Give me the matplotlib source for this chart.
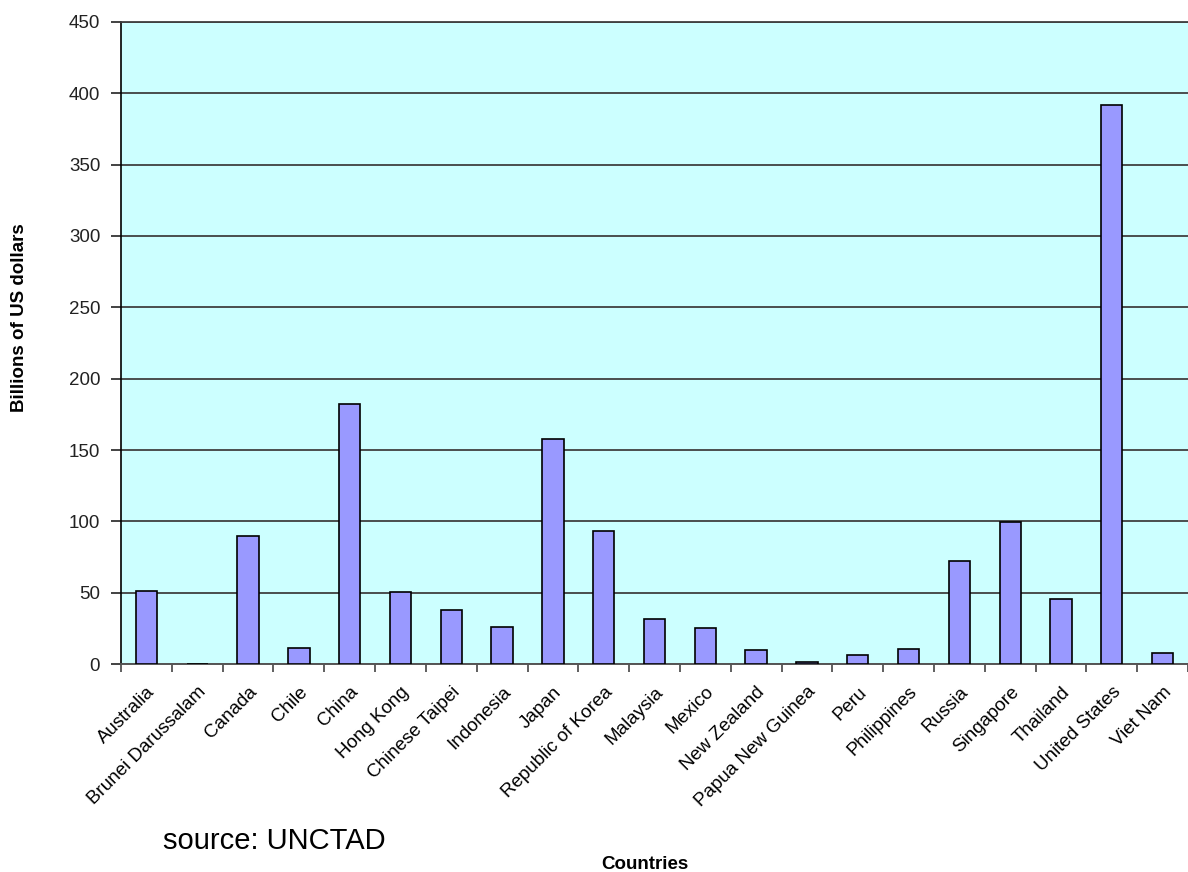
import numpy as np
import matplotlib.pyplot as plt

plt.rcParams['font.family'] = ['Liberation Sans', 'DejaVu Sans']

countries = ['Australia', 'Brunei Darussalam', 'Canada', 'Chile', 'China', 'Hong Kong',
             'Chinese Taipei', 'Indonesia', 'Japan', 'Republic of Korea', 'Malaysia',
             'Mexico', 'New Zealand', 'Papua New Guinea', 'Peru', 'Philippines',
             'Russia', 'Singapore', 'Thailand', 'United States', 'Viet Nam']
values = [51.4, 0, 90, 11, 182, 50.5, 38, 25.7, 157.5, 93.3, 31.8,
          25, 9.6, 1.6, 6.1, 10.5, 72, 99.2, 45.6, 392, 7.9]
yticks = [0, 50, 100, 150, 200, 250, 300, 350, 400, 450]

fig = plt.figure(figsize=(11.88, 8.72), dpi=100)
ax = fig.add_axes([0.1019, 0.2385, 0.8981, 0.7363])
ax.set_facecolor('#CCFFFF')

x = np.arange(len(countries))
ax.bar(x, values, width=0.42, color='#9999FF', edgecolor='black', linewidth=1.2, zorder=3)

ax.set_xlim(-0.5, len(countries) - 0.5)
ax.set_ylim(0, 450)
ax.set_yticks(yticks)
ax.set_yticklabels([str(t) for t in yticks], fontsize=13.5)
ax.yaxis.grid(True, color='#404040', linewidth=1.3, zorder=1)
ax.tick_params(axis='y', direction='out', length=7, width=1.2, pad=8, colors='#222222')

# ticks at category boundaries, labels at centres
ax.set_xticks(np.arange(len(countries) + 1) - 0.5)
ax.set_xticklabels([])
ax.set_xticks(x, minor=True)
ax.set_xticklabels(countries, minor=True, rotation=45, ha='right', va='top',
                   rotation_mode='anchor', fontsize=13.5)
ax.tick_params(axis='x', which='major', direction='out', length=6, width=1.2, color='#444444')
ax.tick_params(axis='x', which='minor', length=0, pad=14)

ax.spines['right'].set_visible(False)
ax.spines['top'].set_color('#404040')
ax.spines['top'].set_linewidth(1.3)
ax.spines['left'].set_color('black')
ax.spines['left'].set_linewidth(1.2)
ax.spines['bottom'].set_color('#555555')
ax.spines['bottom'].set_linewidth(1.4)

ax.set_ylabel('Billions of US dollars', fontsize=13.5, fontweight='bold', labelpad=0)
ax.yaxis.set_label_coords(-0.087, 0.54)
fig.text(0.543, -0.001, 'Countries', fontsize=13.5, fontweight='bold', ha='center', va='bottom')
fig.text(0.137, 0.02, 'source: UNCTAD', fontsize=21, ha='left', va='bottom')

fig.savefig('out.png', dpi=100)
